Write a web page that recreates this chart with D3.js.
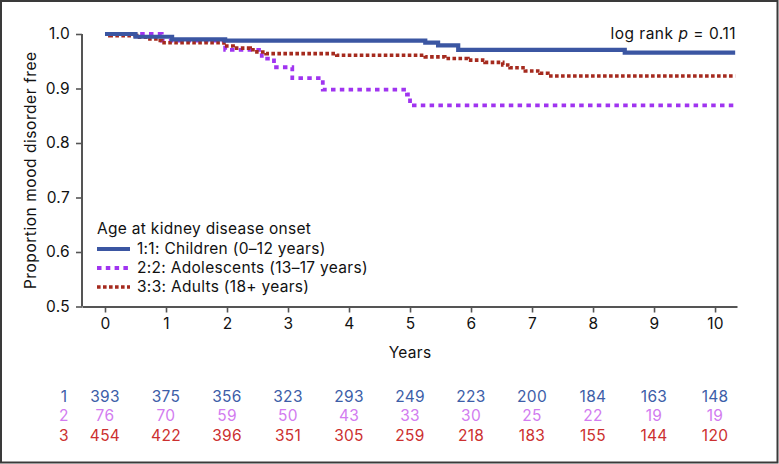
<!DOCTYPE html>
<html>
<head>
<meta charset="utf-8">
<script src="https://cdn.jsdelivr.net/npm/d3@7"></script>
<style>
  html, body { margin: 0; padding: 0; background: #fff; }
  svg { display: block; font-family: Inter, "Noto Sans", sans-serif; }
  svg text { letter-spacing: 0.3px; }
</style>
</head>
<body>
<svg id="chart" width="779" height="464"></svg>
<script>
// ---- data ----
const groupIds = ["1", "2", "3"];
const groupLabels = ["1:1: Children (0\u201312 years)", "2:2: Adolescents (13\u201317 years)", "3:3: Adults (18+ years)"];
const legendTitle = "Age at kidney disease onset";
const endYear = 10.33;

const childrenTime = [0, 0.5, 1.1, 1.97, 5.25, 5.46, 5.79, 8.52];
const childrenSurv = [1.0, 0.995, 0.990, 0.988, 0.984, 0.979, 0.971, 0.966];

const adolescentTime = [0, 0.93, 1.97, 2.57, 2.77, 3.07, 3.57, 4.95, 5.0];
const adolescentSurv = [1.0, 0.988, 0.971, 0.955, 0.939, 0.919, 0.898, 0.889, 0.869];

const adultTime = [0, 0.08, 0.52, 0.70, 0.87, 0.93, 1.95, 2.10, 2.38, 2.49, 2.64, 3.80, 5.25, 5.57, 5.95, 6.23, 6.52, 6.64, 6.89, 7.13, 7.26];
const adultSurv = [1.0, 0.997, 0.994, 0.991, 0.988, 0.984, 0.978, 0.974, 0.971, 0.967, 0.964, 0.961, 0.958, 0.955, 0.952, 0.948, 0.943, 0.938, 0.932, 0.928, 0.923];

const xTicks = [0, 1, 2, 3, 4, 5, 6, 7, 8, 9, 10];
const yTicks = [0.5, 0.6, 0.7, 0.8, 0.9, 1.0];

const riskChildren = [393, 375, 356, 323, 293, 249, 223, 200, 184, 163, 148];
const riskAdolescents = [76, 70, 59, 50, 43, 33, 30, 25, 22, 19, 19];
const riskAdults = [454, 422, 396, 351, 305, 259, 218, 183, 155, 144, 120];

const pValueText = "0.11";

// ---- styles ----
const lineColors = ["#3b56a2", "#a034f0", "#a52a1e"];
const riskColors = ["#3d5ea8", "#d27cf0", "#cc3030"];
const dashes = [null, "4.5,4.3", "3.6,2.4"];
const widths = [4.2, 3.8, 3.6];
const axisColor = "#555";
const FONT = 'Inter, "Noto Sans", sans-serif';

const svg = d3.select("#chart");

// frame
svg.append("rect").attr("x", 1).attr("y", 1).attr("width", 776.5).attr("height", 461.5)
  .attr("fill", "none").attr("stroke", "#3a3a3a").attr("stroke-width", 2);

const x = d3.scaleLinear().domain([-0.377, 10.36]).range([82, 737]);
const y = d3.scaleLinear().domain([0.5, 1.0]).range([306.5, 34]);

// axes
const xAxis = d3.axisBottom(x).tickValues(xTicks).tickSize(6).tickSizeOuter(0).tickPadding(5).tickFormat(d3.format("d"));
const gx = svg.append("g").attr("transform", `translate(0,${y(0.5)})`).call(xAxis);
const yAxis = d3.axisLeft(y).tickValues(yTicks).tickSize(6).tickSizeOuter(0).tickPadding(6).tickFormat(d3.format(".1f"));
const gy = svg.append("g").attr("transform", `translate(${x.range()[0]},0)`).call(yAxis);

[gx, gy].forEach(g => {
  g.select(".domain").attr("stroke", axisColor).attr("stroke-width", 2);
  g.selectAll(".tick line").attr("stroke", axisColor).attr("stroke-width", 1.6);
  g.selectAll(".tick text").attr("fill", "#111").style("font-size", "15.5px").style("font-family", FONT);
});
gy.select(".domain").attr("d", `M0,${y(1.0)}V${y(0.5)}`);

svg.append("text").attr("x", 410).attr("y", 358)
  .attr("text-anchor", "middle").style("font-size", "15.5px").attr("fill", "#111").text("Years");

svg.append("text").attr("transform", `translate(36,${(y(1) + y(0.5)) / 2}) rotate(-90)`)
  .attr("text-anchor", "middle").style("font-size", "15.5px").style("letter-spacing", "0.55px")
  .attr("fill", "#111").text("Proportion mood disorder free");

// curves
const series = [
  { t: childrenTime, s: childrenSurv },
  { t: adolescentTime, s: adolescentSurv },
  { t: adultTime, s: adultSurv }
];
const line = d3.line().x(d => x(d[0])).y(d => y(d[1])).curve(d3.curveStepAfter);
const drawOrder = [1, 2, 0];
drawOrder.forEach(i => {
  const sr = series[i];
  const pts = sr.t.map((t, k) => [t, sr.s[k]]);
  pts.push([endYear, sr.s[sr.s.length - 1]]);
  svg.append("path").datum(pts).attr("d", line)
    .attr("fill", "none").attr("stroke", lineColors[i]).attr("stroke-width", widths[i])
    .attr("stroke-dasharray", dashes[i]);
});

// log rank
const lr = svg.append("text").attr("x", 736).attr("y", 39).attr("text-anchor", "end")
  .style("font-size", "15.5px").style("letter-spacing", "0.5px").attr("fill", "#111");
lr.append("tspan").text("log rank ");
lr.append("tspan").style("font-style", "italic").text("p");
lr.append("tspan").text(" = " + pValueText);

// legend
const lg = svg.append("g");
lg.append("text").attr("x", 97).attr("y", 234).style("font-size", "15.5px").attr("fill", "#111").text(legendTitle);
groupLabels.forEach((lab, i) => {
  const yy = 249 + i * 19;
  lg.append("line").attr("x1", 97).attr("x2", 130).attr("y1", yy).attr("y2", yy)
    .attr("stroke", lineColors[i]).attr("stroke-width", widths[i]).attr("stroke-dasharray", dashes[i]);
  lg.append("text").attr("x", 137).attr("y", yy + 5).style("font-size", "15.5px").attr("fill", "#111").text(lab);
});

// risk table
const risks = [riskChildren, riskAdolescents, riskAdults];
const rowY = [401.5, 421, 440.5];
risks.forEach((arr, i) => {
  svg.append("text").attr("x", 64).attr("y", rowY[i]).attr("text-anchor", "middle")
    .style("font-size", "15.5px").attr("fill", riskColors[i]).text(groupIds[i]);
  svg.selectAll(null).data(arr).enter().append("text")
    .attr("x", (d, k) => x(xTicks[k])).attr("y", rowY[i]).attr("text-anchor", "middle")
    .style("font-size", "15.5px").attr("fill", riskColors[i]).text(d => d);
});
</script>
</body>
</html>
